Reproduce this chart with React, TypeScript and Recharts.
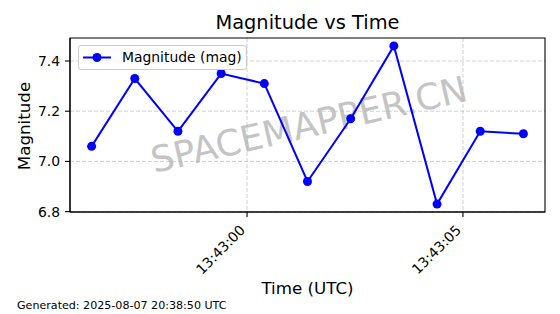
import React from 'react';
import { LineChart, Line, XAxis, YAxis, CartesianGrid, Legend, ReferenceArea } from 'recharts';

const timestamps = [
  '13:42:56.4', '13:42:57.4', '13:42:58.4', '13:42:59.4', '13:43:00.4', '13:43:01.4',
  '13:43:02.4', '13:43:03.4', '13:43:04.4', '13:43:05.4', '13:43:06.4',
];
const magnitudes = [7.06, 7.33, 7.12, 7.35, 7.31, 6.92, 7.17, 7.46, 6.83, 7.12, 7.11];
const timeTickLabels = ['13:43:00', '13:43:05'];
const magnitudeTicks = [6.8, 7.0, 7.2, 7.4];

const FONT = '"DejaVu Sans", sans-serif';

const toSec = (s: string) => {
  const [h, m, sec] = s.split(':');
  return Number(h) * 3600 + Number(m) * 60 + Number(sec);
};

const data = timestamps.map((ts, i) => ({ t: toSec(ts), mag: magnitudes[i] }));

const pad = (lo: number, hi: number): [number, number] => {
  const r = hi - lo;
  return [lo - r * 0.05, hi + r * 0.05];
};
const xDomain = pad(Math.min(...data.map((d) => d.t)), Math.max(...data.map((d) => d.t)));
const yDomain = pad(Math.min(...magnitudes), Math.max(...magnitudes));
const xTicks = timeTickLabels.map(toSec);

const fmtTime = (v: number) => {
  const h = Math.floor(v / 3600);
  const m = Math.floor((v % 3600) / 60);
  const s = Math.round(v % 60);
  const p = (n: number) => String(n).padStart(2, '0');
  return `${p(h)}:${p(m)}:${p(s)}`;
};

const XTick = (props: any) => {
  const { x, y, payload } = props;
  const ax = x - 1;
  const ay = y + 12;
  return (
    <text
      x={ax}
      y={ay}
      textAnchor="end"
      transform={`rotate(-45, ${ax}, ${ay})`}
      fontFamily={FONT}
      fontSize={13.9}
      fill="#000"
    >
      {fmtTime(payload.value)}
    </text>
  );
};

const LegendBox = () => (
  <div
    style={{
      width: 169,
      height: 25,
      boxSizing: 'border-box',
      border: '1px solid #cccccc',
      borderRadius: 3,
      background: 'rgba(255,255,255,0.8)',
      position: 'relative',
      fontFamily: FONT,
      fontSize: 13.9,
      color: '#000',
    }}
  >
    <svg width={30} height={23} style={{ position: 'absolute', left: 3, top: 0 }}>
      <line x1={1} y1={11.5} x2={29} y2={11.5} stroke="#0000ff" strokeWidth={2} />
      <circle cx={15} cy={11.5} r={4.5} fill="#0000ff" />
    </svg>
    <span style={{ position: 'absolute', left: 43, top: 2, lineHeight: '18px', whiteSpace: 'nowrap' }}>
      Magnitude (mag)
    </span>
  </div>
);

export default function App() {
  return (
    <div style={{ position: 'absolute', left: 0, top: 0, width: 560, height: 314, background: '#fff' }}>
      <svg width={560} height={314} style={{ position: 'absolute', left: 0, top: 0 }}>
        <text x={307.5} y={29} textAnchor="middle" fontFamily={FONT} fontSize={19.4} fill="#000">
          Magnitude vs Time
        </text>
        <text
          x={29.5}
          y={126}
          textAnchor="middle"
          transform="rotate(-90, 29.5, 126)"
          fontFamily={FONT}
          fontSize={16.7}
          fill="#000"
        >
          Magnitude
        </text>
        <text x={307.5} y={294} textAnchor="middle" fontFamily={FONT} fontSize={16.7} fill="#000">
          Time (UTC)
        </text>
        <text x={17} y={309} fontFamily={FONT} fontSize={11.1} fill="#000">
          Generated: 2025-08-07 20:38:50 UTC
        </text>
        <text
          x={309}
          y={137}
          textAnchor="middle"
          transform="rotate(-13, 309, 125)"
          fontFamily={FONT}
          fontSize={36}
          fill="#c4c4c4"
        >
          SPACEMAPPER.CN
        </text>
      </svg>
      <div style={{ position: 'absolute', left: 0, top: 0 }}>
        <LineChart width={560} height={314} data={data} margin={{ top: 38, right: 15, bottom: 0, left: 0 }}>
          <CartesianGrid
            stroke="#b0b0b0"
            strokeOpacity={0.6}
            strokeDasharray="4 2"
            strokeWidth={1}
            horizontalValues={magnitudeTicks}
            verticalValues={xTicks}
          />
          <XAxis
            dataKey="t"
            type="number"
            domain={xDomain}
            ticks={xTicks}
            height={102}
            allowDataOverflow
            tick={<XTick />}
            tickSize={5}
            tickLine={{ stroke: '#000', strokeWidth: 1.1 }}
            axisLine={{ stroke: '#000', strokeWidth: 1.1 }}
            interval={0}
          />
          <YAxis
            type="number"
            domain={yDomain}
            ticks={magnitudeTicks}
            width={70}
            allowDataOverflow
            tickFormatter={(v: number) => v.toFixed(1)}
            tick={{ fontFamily: FONT, fontSize: 13.9, fill: '#000' }}
            tickSize={5}
            tickMargin={5}
            tickLine={{ stroke: '#000', strokeWidth: 1.1 }}
            axisLine={{ stroke: '#000', strokeWidth: 1.1 }}
            interval={0}
          />
          <ReferenceArea
            x1={xDomain[0]}
            x2={xDomain[1]}
            y1={yDomain[0]}
            y2={yDomain[1]}
            fill="none"
            fillOpacity={0}
            stroke="#000"
            strokeWidth={1.1}
            ifOverflow="visible"
          />
          <Legend
            layout="horizontal"
            verticalAlign="middle"
            align="center"
            content={() => <LegendBox />}
            wrapperStyle={{ position: 'absolute', left: 78, top: 45, width: 169, height: 25 }}
          />
          <Line
            type="linear"
            dataKey="mag"
            name="Magnitude (mag)"
            stroke="#0000ff"
            strokeWidth={2}
            dot={{ r: 4.5, fill: '#0000ff', stroke: 'none' }}
            activeDot={false}
            isAnimationActive={false}
          />
        </LineChart>
      </div>
    </div>
  );
}
